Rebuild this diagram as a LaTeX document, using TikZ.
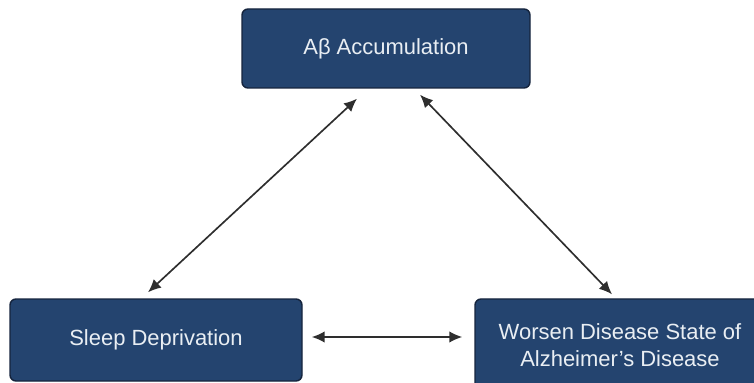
\documentclass[tikz,border=0pt]{standalone}
\usepackage{fontspec}
\setmainfont{Liberation Sans}
\usetikzlibrary{arrows.meta}

\definecolor{boxblue}{HTML}{24446F}
\definecolor{boxedge}{HTML}{15243D}
\definecolor{boxtext}{HTML}{E9EEF3}
\definecolor{arrowgray}{HTML}{2E2E2E}

\tikzset{
  factor/.style={draw=boxedge, line width=0.8pt, fill=boxblue, rounded corners=1.2mm,
    text=boxtext, align=center, font=\fontsize{12.5}{15}\selectfont, inner sep=0pt},
  link/.style={arrows={Latex[length=2.6mm,width=2.3mm]-Latex[length=2.6mm,width=2.3mm]},
    line width=0.95pt, draw=arrowgray}
}

\begin{document}
\begin{tikzpicture}[]
	\useasboundingbox (0,0) rectangle (15.08,-7.66);
	\begin{scope}
	\clip (0,0) rectangle (15.08,-7.66);

	    \node[factor, minimum width=5.76cm, minimum height=1.58cm] (acc) at (7.72,-0.97) {Aβ Accumulation};
	    \node[factor, minimum width=5.84cm, minimum height=1.64cm] (sleep) at (3.12,-6.80) {Sleep Deprivation};
	    \node[factor, minimum width=5.80cm, minimum height=1.84cm] (worse) at (12.40,-6.90) {Worsen Disease State of\\Alzheimer's Disease};

	    % connections
	    \draw[link] ([shift={(-0.58,-0.20)}]acc.south) -- ([shift={(-0.16,0.12)}]sleep.north);
	    \draw[link] ([shift={(0.68,-0.12)}]acc.south) -- ([shift={(-0.16,0.08)}]worse.north);
	    \draw[link] ([shift={(0.18,0.06)}]sleep.east) -- ([shift={(-0.24,0.16)}]worse.west);
	\end{scope}
\end{tikzpicture}
\end{document}
